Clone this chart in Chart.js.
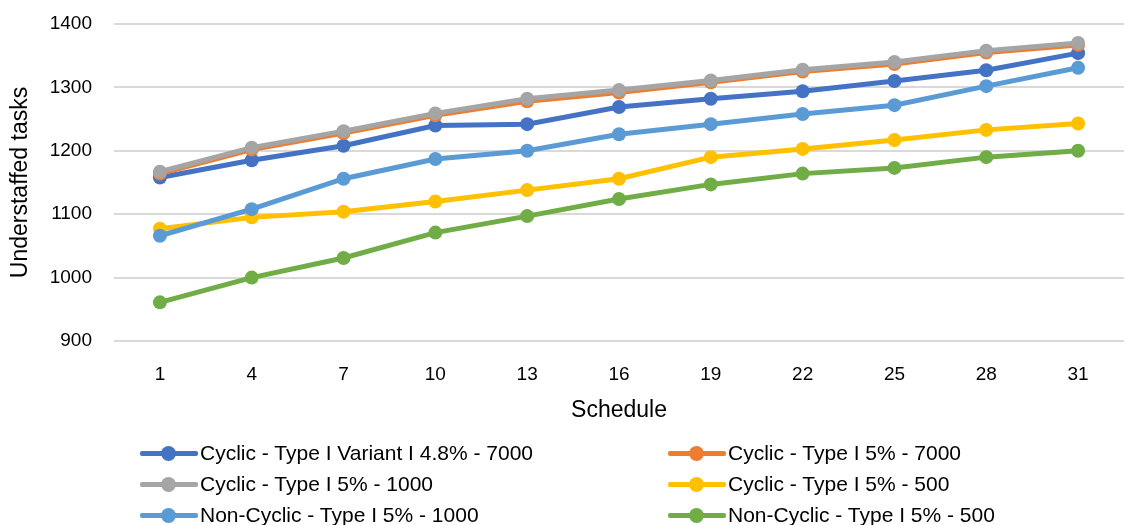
<!DOCTYPE html>
<html>
<head>
<meta charset="utf-8">
<script src="https://cdn.jsdelivr.net/npm/chart.js@4/dist/chart.umd.min.js"></script>
<style>
  html, body { margin: 0; background: #fff; overflow: hidden; }
  #wrap { position: relative; width: 1125px; height: 525px; overflow: hidden; }
  #legend { position: absolute; left: 0; top: 438px; width: 1125px; font-family: "Liberation Sans", Arial, sans-serif; font-size: 21px; color: #000; }
  .item { position: absolute; height: 30px; line-height: 30px; white-space: nowrap; }
  .sym { position: absolute; left: 0; top: 13px; width: 58px; height: 5px; border-radius: 2px; }
  .dot { position: absolute; left: 21px; top: -5px; width: 15px; height: 15px; border-radius: 50%; }
  .lbl { position: absolute; left: 60px; top: 0; }
</style>
</head>
<body>
<div id="wrap">
  <canvas id="chart" width="1131" height="525"></canvas>
  <div id="legend"></div>
</div>
<script>
var schedules = ["1", "4", "7", "10", "13", "16", "19", "22", "25", "28", "31"]

var variant7000 = [1158, 1185, 1208, 1240, 1242, 1269, 1282, 1294, 1310, 1327, 1354]
var cyclic7000 = [1164, 1202, 1228, 1256, 1278, 1292, 1308, 1325, 1337, 1355, 1367]
var cyclic1000 = [1167, 1205, 1231, 1259, 1282, 1296, 1311, 1328, 1340, 1358, 1370]
var cyclic500 = [1077, 1095, 1104, 1120, 1138, 1156, 1190, 1203, 1217, 1233, 1243]
var nonCyclic1000 = [1066, 1108, 1156, 1187, 1200, 1226, 1242, 1258, 1272, 1302, 1331]
var nonCyclic500 = [961, 1000, 1031, 1071, 1097, 1124, 1147, 1164, 1173, 1190, 1200]

var names = [
  "Cyclic - Type I Variant I 4.8% - 7000",
  "Cyclic - Type I 5% - 7000",
  "Cyclic - Type I 5% - 1000",
  "Cyclic - Type I 5% - 500",
  "Non-Cyclic - Type I 5% - 1000",
  "Non-Cyclic - Type I 5% - 500"
]
var colors = ["#4472C4", "#ED7D31", "#A5A5A5", "#FFC000", "#5B9BD5", "#70AD47"]
var series = [variant7000, cyclic7000, cyclic1000, cyclic500, nonCyclic1000, nonCyclic500]

var datasets = series.map(function (d, i) {
  return {
    label: names[i],
    data: d,
    borderColor: colors[i],
    backgroundColor: colors[i],
    borderWidth: 5,
    pointRadius: 7,
    pointBorderWidth: 0,
    tension: 0,
    order: 6 - i   // later series on top, like excel
  }
})

var font = "'Liberation Sans', Arial, sans-serif"

new Chart(document.getElementById("chart"), {
  type: "line",
  data: { labels: schedules, datasets: datasets },
  options: {
    responsive: false,
    animation: false,
    layout: { padding: { top: 24, right: 0, left: 7, bottom: 101 } },
    plugins: { legend: { display: false }, tooltip: { enabled: false } },
    scales: {
      x: {
        offset: true,
        grid: { display: false },
        border: { display: false },
        ticks: { color: "#000", font: { family: font, size: 19 }, padding: 14 },
        title: { display: true, text: "Schedule", color: "#000", font: { family: font, size: 23 }, padding: { top: 0, bottom: 0 } },
        afterFit: function (s) { s.height = 83; s.paddingLeft = 0; s.paddingRight = 0 }
      },
      y: {
        min: 900,
        max: 1400,
        ticks: {
          stepSize: 100, color: "#000", font: { family: font, size: 19 }, padding: 22,
          callback: function (v) { return String(v) }
        },
        grid: { color: "#d9d9d9", lineWidth: 2, drawTicks: false },
        border: { display: false },
        title: { display: true, text: "Understaffed tasks", color: "#000", font: { family: font, size: 23 }, padding: { top: 0, bottom: 0 } },
        afterFit: function (s) { s.width = 107; s.paddingTop = 0; s.paddingBottom = 0 }
      }
    }
  }
})

// two-column legend like the original
var legend = document.getElementById("legend")
var colX = [140, 668]
names.forEach(function (n, i) {
  var el = document.createElement("div")
  el.className = "item"
  el.style.left = colX[i % 2] + "px"
  el.style.top = Math.floor(i / 2) * 31 + "px"
  el.innerHTML = '<div class="sym" style="background:' + colors[i] + '"><div class="dot" style="background:' + colors[i] + '"></div></div><span class="lbl">' + n + '</span>'
  legend.appendChild(el)
})
</script>
</body>
</html>
